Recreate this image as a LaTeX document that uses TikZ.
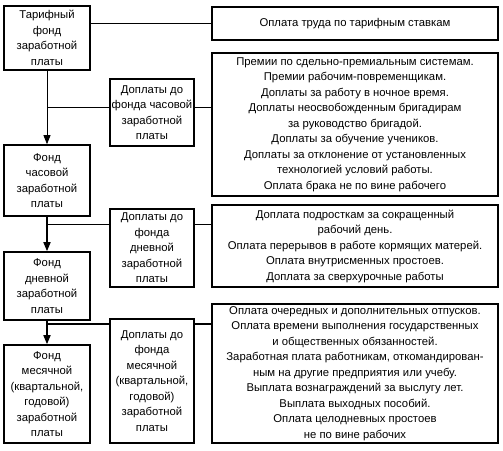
\documentclass[tikz,border=0pt]{standalone}
\usepackage{fontspec}
\setmainfont{Liberation Sans}
\usetikzlibrary{arrows.meta}

\begin{document}
\begin{tikzpicture}[%
  x=1pt, y=-1pt,
  every node/.style={draw, line width=1.6pt, rectangle, align=center, inner sep=0pt, font=\fontsize{11.3}{15.5}\selectfont},
  fund/.style={minimum width=86pt},
  extra/.style={minimum width=84pt},
  items/.style={minimum width=286pt},
  link/.style={line width=0.8pt},
  thick link/.style={line width=1.6pt},
  down/.style={-{Triangle[length=9pt,width=7pt]}}]
\useasboundingbox (0,0) rectangle (503,450);
\node[fund, minimum height=64pt] (tarif) at (47,38)
	{Тарифный\\фонд\\заработной\\платы};
\node[fund, minimum height=71pt] (hour) at (47,180.5)
	{Фонд\\часовой\\заработной\\платы};
\node[fund, minimum height=68pt] (day) at (47,286)
	{Фонд\\дневной\\заработной\\платы};
\node[fund, minimum height=98pt] (month) at (47,394)
	{Фонд\\месячной\\(квартальной,\\годовой)\\заработной\\платы};
\node[extra, minimum height=67pt] (xhour) at (152,112.5)
	{Доплаты до\\фонда часовой\\заработной\\платы};
\node[extra, minimum height=78pt] (xday) at (152,248)
	{Доплаты до\\фонда\\дневной\\заработной\\платы};
\node[extra, minimum height=124pt] (xmonth) at (152,381)
	{Доплаты до\\фонда\\месячной\\(квартальной,\\годовой)\\заработной\\платы};
\node[items, minimum height=33pt] (rate) at (355,23.5)
	{Оплата труда по тарифным ставкам};
\node[items, minimum height=143pt] (bonus) at (355,124.5)
	{Премии по сдельно-премиальным системам.\\
	Премии рабочим-повременщикам.\\
	Доплаты за работу в ночное время.\\
	Доплаты неосвобожденным бригадирам\\
	за руководство бригадой.\\
	Доплаты за обучение учеников.\\
	Доплаты за отклонение от установленных\\
	технологией условий работы.\\
	Оплата брака не по вине рабочего};
\node[items, minimum height=82pt] (short) at (355,246)
	{Доплата подросткам за сокращенный\\
	рабочий день.\\
	Оплата перерывов в работе кормящих матерей.\\
	Оплата внутрисменных простоев.\\
	Доплата за сверхурочные работы};
\node[items, minimum height=139pt] (leave) at (355,373.5)
	{Оплата очередных и дополнительных отпусков.\\
	Оплата времени выполнения государственных\\
	и общественных обязанностей.\\
	Заработная плата работникам, откомандирован-\\
	ным на другие предприятия или учебу.\\
	Выплата вознаграждений за выслугу лет.\\
	Выплата выходных пособий.\\
	Оплата целодневных простоев\\
	не по вине рабочих};
\coordinate (j1) at (47,107);
\coordinate (j2) at (47,224);
\coordinate (j3) at (47,324);
\draw[link] (tarif.east |- rate.west) -- (rate.west);
\draw[link, down] (tarif.south) -- (hour.north);
\draw[thick link, down] (hour.south) -- (day.north);
\draw[thick link, down] (day.south) -- (month.north);
\draw[link] (j1) -- (j1 -| xhour.west);
\draw[link] (xhour.east |- j1) -- (j1 -| bonus.west);
\draw[link] (j2) -- (j2 -| xday.west);
\draw[link] (xday.east |- j2) -- (j2 -| short.west);
\draw[thick link] (j3) -- (j3 -| xmonth.west);
\draw[thick link] (xmonth.east |- j3) -- (j3 -| leave.west);
\end{tikzpicture}
\end{document}
